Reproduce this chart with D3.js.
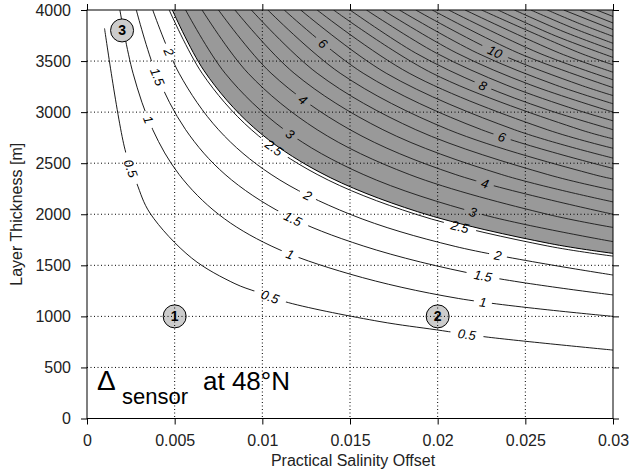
<!DOCTYPE html>
<html>
<head>
<meta charset="utf-8">
<script src="https://cdn.jsdelivr.net/npm/d3@7"></script>
<style>
  body { margin: 0; background: #fff; }
  text { font-family: "Liberation Sans", Arial, Helvetica, sans-serif; }
</style>
</head>
<body>
<script>
// x = practical salinity offset, y = layer thickness [m]
const xTicks = [0, 0.005, 0.01, 0.015, 0.02, 0.025, 0.03];
const xTickLabels = ["0", "0.005", "0.01", "0.015", "0.02", "0.025", "0.03"];
const yTicks = [0, 500, 1000, 1500, 2000, 2500, 3000, 3500, 4000];

// contours below the shading level
const whiteLevels = [0.5, 1, 1.5, 2, 2.5];
const whiteLines = [
  [[0.001,3820],[0.00217,2632],[0.00283,2306],[0.00359,2012],[0.00597,1571],[0.00844,1320],[0.00968,1240],[0.01148,1135],[0.01671,949],[0.01994,868],[0.0227,800],[0.03,670]],
  [[0.001875,4000],[0.002625,3381],[0.00375,2828],[0.00525,2390],[0.0075,2000],[0.0105,1690],[0.015,1414],[0.0212,1175],[0.03,1000]],
  [[0.0028125,4000],[0.0039375,3381],[0.005625,2828],[0.007875,2390],[0.01125,2000],[0.01575,1690],[0.0225,1400],[0.03,1210]],
  [[0.00375,4000],[0.00525,3381],[0.0075,2828],[0.0105,2390],[0.015,2000],[0.021,1685],[0.03,1405]],
  [[0.0046875,4000],[0.0065625,3381],[0.009375,2828],[0.013125,2390],[0.01875,2000],[0.02625,1690],[0.03,1590]]
];

// contours inside the shaded area
const greyLevels = [3, 3.5, 4, 4.5, 5, 5.5, 6, 6.5, 7, 7.5, 8, 8.5, 9, 9.5, 10, 10.5, 11, 11.5, 12, 12.5, 13, 13.5, 14, 14.5, 15, 15.5];
const greyLines = [
  [[0.005625,4000],[0.007875,3381],[0.01125,2828],[0.01575,2390],[0.0225,2000],[0.03,1732]],
  [[0.006563,4000],[0.009188,3381],[0.013125,2828],[0.018375,2390],[0.02625,2000],[0.03,1871]],
  [[0.0075,4000],[0.0105,3381],[0.015,2828],[0.021,2390],[0.03,2000]],
  [[0.008438,4000],[0.011813,3381],[0.016875,2828],[0.023625,2390],[0.03,2121]],
  [[0.009375,4000],[0.013125,3381],[0.01875,2828],[0.02625,2390],[0.03,2236]],
  [[0.010313,4000],[0.014438,3381],[0.020625,2828],[0.028875,2390],[0.03,2345]],
  [[0.01125,4000],[0.01575,3381],[0.0225,2828],[0.03,2449]],
  [[0.012188,4000],[0.017063,3381],[0.024375,2828],[0.03,2550]],
  [[0.013125,4000],[0.018375,3381],[0.02625,2828],[0.03,2646]],
  [[0.014063,4000],[0.019688,3381],[0.028125,2828],[0.03,2739]],
  [[0.015,4000],[0.01875,3578],[0.0225,3266],[0.02625,3024],[0.03,2828]],
  [[0.015938,4000],[0.019922,3578],[0.023906,3266],[0.027891,3024],[0.03,2915]],
  [[0.016875,4000],[0.021094,3578],[0.025313,3266],[0.03,3000]],
  [[0.017813,4000],[0.022266,3578],[0.026719,3266],[0.03,3082]],
  [[0.01875,4000],[0.023438,3578],[0.028125,3266],[0.03,3162]],
  [[0.019688,4000],[0.024609,3578],[0.03,3240]],
  [[0.020625,4000],[0.025781,3578],[0.03,3317]],
  [[0.021563,4000],[0.026953,3578],[0.03,3391]],
  [[0.0225,4000],[0.028125,3578],[0.03,3464]],
  [[0.023438,4000],[0.0267,3748],[0.03,3536]],
  [[0.024375,4000],[0.0272,3787],[0.03,3606]],
  [[0.025313,4000],[0.0277,3824],[0.03,3674]],
  [[0.02625,4000],[0.0281,3866],[0.03,3742]],
  [[0.027188,4000],[0.03,3808]],
  [[0.028125,4000],[0.03,3873]],
  [[0.029063,4000],[0.03,3937]]
];

const shadeLevel = 2.5;

// inline contour labels: which level, and at what salinity offset
const labelLevels = [0.5, 1, 1.5, 2, 2.5, 0.5, 1, 1.5, 2, 0.5, 1, 1.5, 2, 2.5, 3, 4, 6, 3, 4, 6, 8, 10];
const labelX = [0.0025, 0.0035, 0.00402, 0.00468, 0.01067, 0.01044, 0.01158, 0.01175, 0.0126,
                0.02167, 0.02258, 0.02258, 0.02344, 0.02127, 0.01158, 0.01232, 0.01346,
                0.02201, 0.0227, 0.02367, 0.02258, 0.02327];

// numbered cases
const caseIds = ["1", "2", "3"];
const caseX = [0.005, 0.02, 0.002];
const caseY = [1000, 1000, 3800];

let margin = {top: 10, right: 16, bottom: 53.5, left: 87},
    width = 629 - margin.left - margin.right,
    height = 472 - margin.top - margin.bottom;

let svg = d3.select("body").append("svg")
    .attr("width", 629)
    .attr("height", 472);

let g = svg.append("g")
    .attr("transform", "translate(" + margin.left + "," + margin.top + ")");

let x = d3.scaleLinear().domain([0, 0.03]).range([0, width]);
let y = d3.scaleLinear().domain([0, 4000]).range([height, 0]);

svg.append("defs").append("clipPath").attr("id", "plot")
    .append("rect").attr("width", width).attr("height", height);

let line = d3.line()
    .x(d => x(d[0]))
    .y(d => y(d[1]))
    .curve(d3.curveCatmullRom.alpha(0.5));

let plot = g.append("g").attr("clip-path", "url(#plot)");

// shaded region above the 2.5 contour (edge drawn a little off the contour itself)
let shadeLine = whiteLines[whiteLevels.indexOf(shadeLevel)];
let last = shadeLine[shadeLine.length - 1];
let shadePath = line(shadeLine) +
    "L" + (x(last[0]) + 10) + "," + y(last[1]) +
    "L" + (x(last[0]) + 10) + "," + (y(4000) - 10) +
    "L" + x(shadeLine[0][0]) + "," + (y(4000) - 10) + "Z";
plot.append("path")
    .attr("d", shadePath)
    .attr("transform", "translate(2,-2.5)")
    .style("fill", "#999")
    .style("stroke", "#000")
    .style("stroke-width", 1);

// contour lines
let allLevels = whiteLevels.concat(greyLevels);
let allLines = whiteLines.concat(greyLines);
let paths = new Map();

plot.selectAll("path.contour")
    .data(allLines)
    .enter()
    .append("path")
    .attr("class", "contour")
    .attr("d", line)
    .style("fill", "none")
    .style("stroke", (d, i) => allLevels[i] > shadeLevel ? "#1a1a1a" : "#000")
    .style("stroke-width", 0.9)
    .each(function (d, i) { paths.set(allLevels[i], this); });

// find the point on a contour path at a given x
function lengthAtX(node, px) {
  let lo = 0, hi = node.getTotalLength();
  for (let k = 0; k < 40; k++) {
    let mid = (lo + hi) / 2;
    if (node.getPointAtLength(mid).x < px) lo = mid; else hi = mid;
  }
  return lo;
}

let labels = g.append("g");
labelLevels.forEach(function (lev, i) {
  let node = paths.get(lev);
  let L = lengthAtX(node, x(labelX[i]));
  let p = node.getPointAtLength(L);
  let p1 = node.getPointAtLength(Math.max(0, L - 3));
  let p2 = node.getPointAtLength(L + 3);
  let ang = Math.atan2(p2.y - p1.y, p2.x - p1.x) * 180 / Math.PI;
  let lg = labels.append("g")
      .attr("transform", "translate(" + p.x + "," + p.y + ") rotate(" + ang + ")");
  let bg = lg.append("rect");
  let t = lg.append("text")
      .attr("text-anchor", "middle")
      .attr("dy", "0.36em")
      .attr("font-size", "13px")
      .attr("font-style", "italic")
      .attr("fill", "#000")
      .text(String(lev));
  let w = t.node().getComputedTextLength() * 1.4 + 8;
  bg.attr("x", -w / 2).attr("y", -2)
    .attr("width", w).attr("height", 4)
    .style("fill", lev > shadeLevel ? "#999" : "#fff");
});

// numbered circles
let cases = g.append("g");
cases.selectAll("circle")
    .data(caseIds)
    .enter()
    .append("circle")
    .attr("cx", (d, i) => x(caseX[i]))
    .attr("cy", (d, i) => y(caseY[i]))
    .attr("r", 11.5)
    .style("fill", "#cccccc")
    .style("stroke", "#000")
    .style("stroke-width", 1);
cases.selectAll("text")
    .data(caseIds)
    .enter()
    .append("text")
    .attr("x", (d, i) => x(caseX[i]))
    .attr("y", (d, i) => y(caseY[i]))
    .attr("dy", "0.36em")
    .attr("text-anchor", "middle")
    .attr("font-size", "14px")
    .attr("font-weight", "bold")
    .text(d => d);

// annotation
let note = svg.append("g");
note.append("text").attr("x", 97).attr("y", 390).attr("font-size", "28px").text("\u0394");
note.append("text").attr("x", 122).attr("y", 404).attr("font-size", "22px").text("sensor");
note.append("text").attr("x", 203).attr("y", 390).attr("font-size", "26px").text("at 48\u00b0N");

// dotted grid on top
let grid = g.append("g").style("stroke", "#000").style("stroke-width", 1).style("stroke-dasharray", "1,2.5");
grid.selectAll("line.vx")
    .data(xTicks.slice(1, -1))
    .enter()
    .append("line")
    .attr("x1", d => x(d)).attr("x2", d => x(d))
    .attr("y1", 0).attr("y2", height);
grid.selectAll("line.hy")
    .data(yTicks.slice(1, -1))
    .enter()
    .append("line")
    .attr("class", "hy")
    .attr("x1", 0).attr("x2", width)
    .attr("y1", d => y(d)).attr("y2", d => y(d));

// axes
g.append("g")
    .attr("transform", "translate(0," + height + ")")
    .call(d3.axisBottom(x).tickValues(xTicks).tickFormat((d, i) => xTickLabels[i]).tickSize(6).tickSizeOuter(0).tickPadding(10));
g.append("g")
    .call(d3.axisLeft(y).tickValues(yTicks).tickFormat(d3.format("d")).tickSize(6).tickSizeOuter(0).tickPadding(10));
g.append("g").call(d3.axisTop(x).tickValues(xTicks).tickFormat("").tickSize(6).tickSizeOuter(0));
g.append("g").attr("transform", "translate(" + width + ",0)")
    .call(d3.axisRight(y).tickValues(yTicks).tickFormat("").tickSize(6).tickSizeOuter(0));

g.selectAll(".domain").remove();
g.selectAll(".tick text")
    .attr("font-size", "16px")
    .attr("font-family", "\"Liberation Sans\", Arial, sans-serif")
    .attr("fill", "#222");
g.selectAll(".tick line").attr("stroke", "#000");

g.append("rect")
    .attr("width", width).attr("height", height)
    .style("fill", "none").style("stroke", "#000").style("stroke-width", 1);

// axis titles
svg.append("text")
    .attr("x", margin.left + width / 2 + 3)
    .attr("y", 466)
    .attr("text-anchor", "middle")
    .attr("font-size", "16px")
    .attr("fill", "#222")
    .text("Practical Salinity Offset");

svg.append("text")
    .attr("transform", "translate(22," + (margin.top + height / 2) + ") rotate(-90)")
    .attr("text-anchor", "middle")
    .attr("font-size", "16px")
    .attr("fill", "#222")
    .text("Layer Thickness [m]");
</script>
</body>
</html>
